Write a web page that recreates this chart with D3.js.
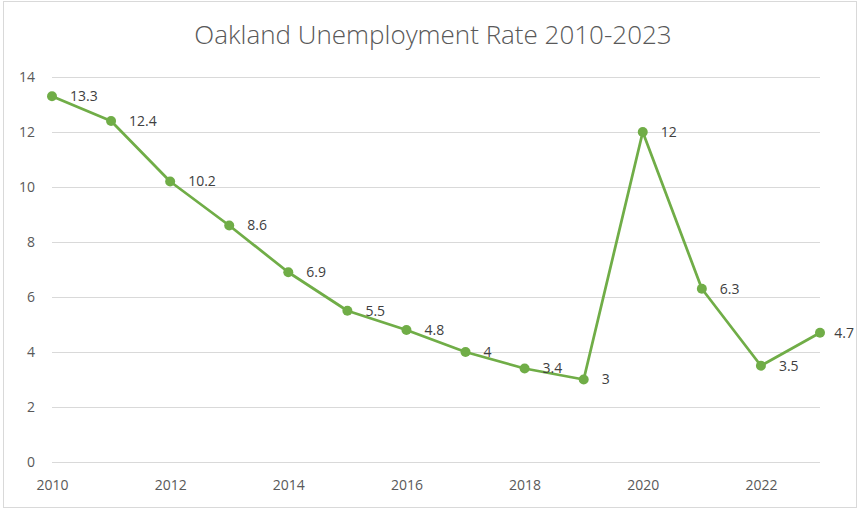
<!DOCTYPE html>
<html>
<head>
<meta charset="utf-8">
<script src="https://cdn.jsdelivr.net/npm/d3@7"></script>
<style>
  html, body { margin: 0; padding: 0; background: #fff; }
  svg { display: block; font-family: "Open Sans", "Noto Sans", sans-serif; }
</style>
</head>
<body>
<svg id="chart" width="862" height="509"></svg>
<script>
// Oakland annual unemployment rate (%)
const years = [2010, 2011, 2012, 2013, 2014, 2015, 2016, 2017, 2018, 2019, 2020, 2021, 2022, 2023];
const rates = [13.3, 12.4, 10.2, 8.6, 6.9, 5.5, 4.8, 4, 3.4, 3, 12, 6.3, 3.5, 4.7];
const yTicks = [0, 2, 4, 6, 8, 10, 12, 14];
const xTicks = [2010, 2012, 2014, 2016, 2018, 2020, 2022];
const title = "Oakland Unemployment Rate 2010-2023";

const data = years.map((y, i) => ({ year: y, rate: rates[i] }));

const svg = d3.select("#chart");
const plot = { left: 52, right: 820, top: 77, bottom: 462 };
const frameRight = 856;
const green = "#70AD47";
const font = "'Open Sans', 'Noto Sans', sans-serif";

// chart frame
svg.append("rect")
  .attr("x", 3.5).attr("y", 1.5)
  .attr("width", frameRight - 3).attr("height", 506)
  .attr("fill", "#fff").attr("stroke", "#d9d9d9").attr("stroke-width", 1);

const x = d3.scaleLinear().domain([2010, 2023]).range([plot.left, plot.right]);
const y = d3.scaleLinear().domain([0, 14]).range([plot.bottom, plot.top]);

// horizontal gridlines
svg.append("g")
  .selectAll("line")
  .data(yTicks)
  .join("line")
  .attr("x1", plot.left).attr("x2", plot.right)
  .attr("y1", d => Math.round(y(d)) + 0.5).attr("y2", d => Math.round(y(d)) + 0.5)
  .attr("stroke", "#d9d9d9").attr("stroke-width", 1);

// y axis labels
const yAxis = d3.axisLeft(y).tickValues(yTicks).tickSize(0).tickPadding(0);
const gy = svg.append("g").attr("transform", `translate(${plot.left - 17},0)`).call(yAxis);
gy.select(".domain").remove();
gy.selectAll("text").attr("font-size", 14).attr("fill", "#595959").attr("font-family", font);

// x axis labels
const xAxis = d3.axisBottom(x).tickValues(xTicks).tickFormat(d3.format("d")).tickSize(0).tickPadding(0);
const gx = svg.append("g").attr("transform", `translate(0,${plot.bottom + 18})`).call(xAxis);
gx.select(".domain").remove();
gx.selectAll("text").attr("font-size", 14).attr("fill", "#595959").attr("font-family", font);

// title
svg.append("text")
  .attr("x", 433).attr("y", 44)
  .attr("text-anchor", "middle")
  .attr("font-size", 26)
  .attr("font-weight", 300)
  .attr("fill", "#595959")
  .text(title);

// line
const line = d3.line().x(d => x(d.year)).y(d => y(d.rate));
svg.append("path")
  .datum(data)
  .attr("d", line)
  .attr("fill", "none")
  .attr("stroke", green)
  .attr("stroke-width", 2.75)
  .attr("stroke-linejoin", "round");

// markers
svg.append("g")
  .selectAll("circle")
  .data(data)
  .join("circle")
  .attr("cx", d => x(d.year)).attr("cy", d => y(d.rate))
  .attr("r", 5)
  .attr("fill", green);

// value labels, right of each point, kept inside the frame
svg.append("g")
  .selectAll("text")
  .data(data)
  .join("text")
  .attr("x", d => x(d.year) + 18)
  .attr("y", d => y(d.rate))
  .attr("dy", "0.35em")
  .attr("font-size", 14)
  .attr("fill", "#404040")
  .text(d => d.rate)
  .each(function () {
    const b = this.getBBox();
    const over = b.x + b.width - (frameRight - 2);
    if (over > 0) d3.select(this).attr("x", b.x - over);
  });
</script>
</body>
</html>
